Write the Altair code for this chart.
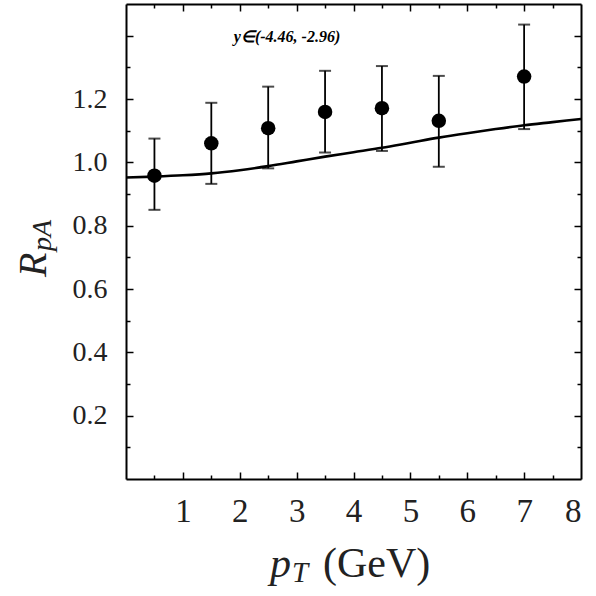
import altair as alt
import pandas as pd

# ---- data ----
pt = [0.5, 1.5, 2.5, 3.5, 4.5, 5.5, 7.0]
rpa = [0.958, 1.060, 1.108, 1.159, 1.171, 1.131, 1.271]
rpa_hi = [1.075, 1.188, 1.239, 1.289, 1.304, 1.273, 1.435]
rpa_lo = [0.850, 0.932, 0.981, 1.031, 1.036, 0.986, 1.105]

curve_pt = [0, 0.5, 1, 1.5, 2, 2.5, 3, 3.5, 4, 4.5, 5, 5.5, 6, 6.5, 7, 7.5, 8]
curve_r = [0.952, 0.955, 0.959, 0.965, 0.975, 0.988, 1.003, 1.018, 1.032,
           1.046, 1.062, 1.078, 1.092, 1.105, 1.117, 1.127, 1.137]

x_labels = [1, 2, 3, 4, 5, 6, 7, 8]
y_labels = [0.2, 0.4, 0.6, 0.8, 1.0, 1.2]
x_ticks = [0.5, 1, 1.5, 2, 2.5, 3, 3.5, 4, 4.5, 5, 5.5, 6, 6.5, 7, 7.5]
y_ticks = [0.1, 0.2, 0.3, 0.4, 0.5, 0.6, 0.7, 0.8, 0.9, 1.0, 1.1, 1.2, 1.3, 1.4]

annotation = "y\u2208(-4.46, -2.96)"
xtitle_main = "p"
xtitle_sub = "T"
xtitle_unit = "(GeV)"
ytitle_main = "R"
ytitle_sub = "pA"

W, H = 455, 475
FONT = "Liberation Serif"

pts = pd.DataFrame({"pt": pt, "r": rpa, "hi": rpa_hi, "lo": rpa_lo})
cur = pd.DataFrame({"pt": curve_pt, "r": curve_r})

xs = alt.Scale(domain=[0, 8], nice=False, zero=False)
ys = alt.Scale(domain=[0, 1.5], nice=False, zero=False)

x_major = "abs(datum.value - round(datum.value)) < 1e-6"
y_major = "abs(datum.value*5 - round(datum.value*5)) < 1e-6"


def tick_axis(orient, offset, values, test, domain):
    return alt.Axis(
        orient=orient, offset=offset, values=values, labels=False, domain=domain,
        domainColor="black", domainWidth=2,
        grid=False, title=None, ticks=True, tickColor="black", tickWidth=1.5,
        tickSize={"condition": {"test": test, "value": 7}, "value": 4},
    )


label_x_axis = alt.Axis(orient="bottom", values=x_labels, format="d", ticks=False,
                        domain=True, domainColor="black", domainWidth=2,
                        grid=False, title=None, labelFont=FONT,
                        labelFontSize=33, labelColor="#222", labelPadding=16)
label_y_axis = alt.Axis(orient="left", values=y_labels, format=".1f", ticks=False,
                        domain=True, domainColor="black", domainWidth=2,
                        grid=False, title=None, labelFont=FONT,
                        labelFontSize=28, labelColor="#222", labelPadding=19)

# curve: carries inward ticks of bottom edge and left edge
curve = alt.Chart(cur).mark_line(color="black", strokeWidth=2.6, interpolate="monotone").encode(
    x=alt.X("pt:Q", scale=xs, axis=tick_axis("top", -H, x_ticks, x_major, False)),
    y=alt.Y("r:Q", scale=ys, axis=tick_axis("right", -W, y_ticks, y_major, False)),
)

# error bars: carry inward ticks (and frame lines) of top edge and right edge
err = alt.Chart(pts).mark_rule(color="black", strokeWidth=1.8).encode(
    x=alt.X("pt:Q", scale=xs, axis=tick_axis("bottom", -H, x_ticks, x_major, True)),
    y=alt.Y("lo:Q", scale=ys, axis=tick_axis("left", -W, y_ticks, y_major, True)),
    y2="hi:Q",
)

cap_lo = alt.Chart(pts).mark_tick(color="black", orient="horizontal", size=12, thickness=2).encode(
    x=alt.X("pt:Q", scale=xs, axis=None),
    y=alt.Y("lo:Q", scale=ys, axis=None),
)
cap_hi = alt.Chart(pts).mark_tick(color="black", orient="horizontal", size=12, thickness=2).encode(
    x=alt.X("pt:Q", scale=xs, axis=None),
    y=alt.Y("hi:Q", scale=ys, axis=None),
)

points = alt.Chart(pts).mark_circle(color="black", opacity=1, size=210).encode(
    x=alt.X("pt:Q", scale=xs, axis=label_x_axis),
    y=alt.Y("r:Q", scale=ys, axis=label_y_axis),
)

ann = alt.Chart(pd.DataFrame({"t": [annotation]})).mark_text(
    font=FONT, fontSize=16, fontWeight="bold", fontStyle="italic", color="black",
    align="center", baseline="middle").encode(
    text="t:N", x=alt.value(161), y=alt.value(33))


def label(txt, x, y, size, style="normal", align="left", angle=0):
    return alt.Chart(pd.DataFrame({"t": [txt]})).mark_text(
        font=FONT, fontSize=size, fontStyle=style, color="#222", align=align,
        baseline="alphabetic", angle=angle).encode(
        text="t:N", x=alt.value(x), y=alt.value(y))


xt1 = label(xtitle_main, 144, 573, 42, "italic")
xt2 = label(xtitle_sub, 166, 578, 29, "italic")
xt3 = label(xtitle_unit, 197, 573, 42)
yt1 = label(ytitle_main, -80, 273, 40, "italic", angle=270)
yt2 = label(ytitle_sub, -75, 247, 28, "italic", angle=270)

chart = alt.layer(
    curve, err, cap_lo, cap_hi, points, ann, xt1, xt2, xt3, yt1, yt2
).resolve_axis(x="independent", y="independent").properties(
    width=W, height=H,
    autosize=alt.AutoSizeParams(type="none"),
    padding={"left": 126, "top": 4, "right": 15, "bottom": 117},
).configure_view(stroke=None).configure_axis(
    labelFont=FONT, labelColor="#222"
).configure(background="white")

chart.save("out.html", embed_options={"renderer": "svg", "actions": False})
